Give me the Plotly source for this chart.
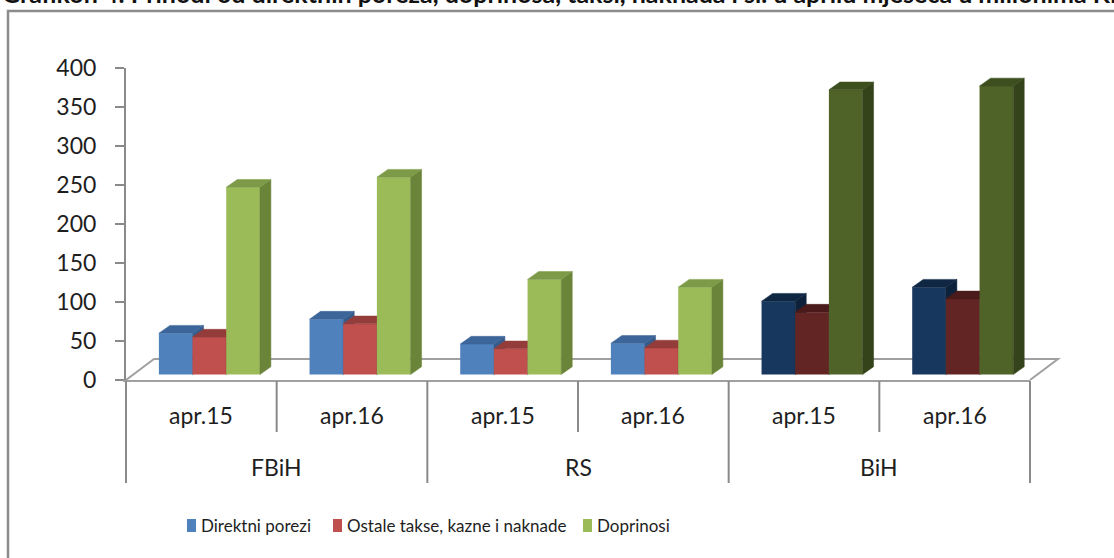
import plotly.graph_objects as go

# ---------------- data ----------------
groups = ["FBiH", "RS", "BiH"]
periods = ["apr.15", "apr.16", "apr.15", "apr.16", "apr.15", "apr.16"]
series_names = ["Direktni porezi", "Ostale takse, kazne i naknade", "Doprinosi"]
direktni_porezi = [53, 71, 39, 40, 94, 112]
ostale_takse = [48, 65, 33, 34, 80, 97]
doprinosi = [240, 253, 122, 112, 365, 370]
y_ticks = [0, 50, 100, 150, 200, 250, 300, 350, 400]
title_text = ("Grafikon 4: Prihodi od direktnih poreza, doprinosa, taksi, naknada i sl. "
              "u aprilu mjeseca u milionima KM")

# ---------------- style ----------------
FONT = "Lato, 'Open Sans', sans-serif"
LEG_FONT = "Lato, sans-serif"
TXT = "#1e1e1e"
front_light = ["#4F81BD", "#C0504D", "#9BBB59"]
top_light = ["#3C669A", "#943C3A", "#7C9A47"]
side_light = ["#375C8B", "#8A3735", "#6A8539"]
front_dark = ["#17375E", "#632523", "#4F6228"]
top_dark = ["#0F2742", "#4A1B1A", "#3D4E1F"]
side_dark = ["#0D223A", "#3F1716", "#34431A"]
dark_flags = [False, False, False, False, True, True]

W, H = 1114, 558
L, R, T, B = 126, 1030, 68, 380  # plot area in pixels
BAR_W = 0.2235
OFFS = [-0.170, 0.0535, 0.277]
BASE = 7
DX, DY = 0.073, 10


def xp(px):
    return (px - L) / (R - L)


def yp(py):
    return (B - py) / (B - T)


values = [direktni_porezi, ostale_takse, doprinosi]
fig = go.Figure()

for s, vals in enumerate(values):
    ax = "" if s == 0 else str(s + 1)
    xa, ya = "x" + ax, "y" + ax
    xs = [i + OFFS[s] for i in range(len(vals))]
    fronts = [front_dark[s] if d else front_light[s] for d in dark_flags]
    fig.add_trace(go.Bar(
        x=xs, y=vals, base=BASE, width=BAR_W, name=series_names[s],
        marker=dict(color=fronts, line=dict(width=0)),
        xaxis=xa, yaxis=ya, showlegend=False, hoverinfo="skip"))
    for i, v in enumerate(vals):
        x0 = xs[i] - BAR_W / 2
        x1 = xs[i] + BAR_W / 2
        yb, yt = BASE, BASE + v
        tc = top_dark[s] if dark_flags[i] else top_light[s]
        sc = side_dark[s] if dark_flags[i] else side_light[s]
        fig.add_trace(go.Scatter(
            x=[x1, x1, x1 + DX, x1 + DX, x1], y=[yb, yt, yt + DY, yb + DY, yb],
            fill="toself", fillcolor=sc, mode="lines", line=dict(width=0.5, color=sc),
            xaxis=xa, yaxis=ya, showlegend=False, hoverinfo="skip"))
        fig.add_trace(go.Scatter(
            x=[x0, x0 + DX, x1 + DX, x1, x0], y=[yt, yt + DY, yt + DY, yt, yt],
            fill="toself", fillcolor=tc, mode="lines", line=dict(width=0.5, color=tc),
            xaxis=xa, yaxis=ya, showlegend=False, hoverinfo="skip"))

shapes = []
GRAY = "#A0A0A0"
AXC = "#8A8A8A"
shapes.append(dict(type="rect", xref="paper", yref="paper",
                   x0=xp(8), y0=yp(11), x1=xp(1130), y1=yp(580),
                   line=dict(color="#8C8C8C", width=2.5), layer="below"))
fdx, fdy = 28, 21
shapes.append(dict(type="path", xref="paper", yref="paper", layer="below",
                   path=f"M{xp(L)},{yp(B)} L{xp(L+fdx)},{yp(B-fdy)} L{xp(R+fdx)},{yp(B-fdy)} L{xp(R)},{yp(B)}",
                   line=dict(color=GRAY, width=2)))
shapes.append(dict(type="line", xref="paper", yref="paper", x0=xp(L - 3), x1=xp(R), y0=yp(B + 1), y1=yp(B + 1),
                   line=dict(color=GRAY, width=2)))
cat_w = (R - L) / len(periods)
for k in range(len(periods) + 1):
    xpx = L + k * cat_w
    outer = (k % 2 == 0)
    shapes.append(dict(type="line", xref="paper", yref="paper",
                       x0=xp(xpx), x1=xp(xpx), y0=yp(B + 1), y1=yp(483 if outer else 432),
                       line=dict(color=AXC, width=2)))

annotations = []
for k, p in enumerate(periods):
    annotations.append(dict(xref="paper", yref="paper", x=xp(L + (k + 0.5) * cat_w), y=yp(415),
                            text=p, showarrow=False, xanchor="center", yanchor="middle",
                            font=dict(family=FONT, size=23, color=TXT)))
for g, name in enumerate(groups):
    annotations.append(dict(xref="paper", yref="paper", x=xp(L + (2 * g + 1) * cat_w), y=yp(467),
                            text=name, showarrow=False, xanchor="center", yanchor="middle",
                            font=dict(family=FONT, size=23, color=TXT)))
annotations.append(dict(xref="paper", yref="paper", x=xp(0), y=yp(10), text="<b>" + title_text + "</b>",
                        showarrow=False, xanchor="left", yanchor="bottom",
                        font=dict(family=FONT, size=25, color="#111111")))
leg_x = [187, 333, 583]
for s, name in enumerate(series_names):
    shapes.append(dict(type="rect", xref="paper", yref="paper",
                       x0=xp(leg_x[s]), x1=xp(leg_x[s] + 9), y0=yp(532), y1=yp(519),
                       fillcolor=front_light[s], line=dict(width=0)))
    annotations.append(dict(xref="paper", yref="paper", x=xp(leg_x[s] + 12), y=yp(525),
                            text=name, showarrow=False, xanchor="left", yanchor="middle",
                            font=dict(family=LEG_FONT, size=17, color=TXT)))

axis_common = dict(range=[-0.5, 5.5], visible=False, fixedrange=True)
yaxis_hidden = dict(range=[0, 400], visible=False, fixedrange=True)
fig.update_layout(
    width=W, height=H,
    margin=dict(l=L, r=W - R, t=T, b=H - B, pad=0),
    paper_bgcolor="white", plot_bgcolor="rgba(0,0,0,0)",
    barmode="overlay", showlegend=False,
    xaxis=dict(axis_common, anchor="y"),
    yaxis=dict(range=[0, 400], tickvals=y_ticks, ticks="outside", ticklen=9, tickwidth=2,
               tickcolor=AXC, showline=True, linecolor=AXC, linewidth=2, showgrid=False,
               zeroline=False, ticklabelstandoff=14, fixedrange=True,
               tickfont=dict(family=FONT, size=23, color=TXT), anchor="x"),
    xaxis2=dict(axis_common, overlaying="x", anchor="y2"),
    yaxis2=dict(yaxis_hidden, overlaying="y", anchor="x2"),
    xaxis3=dict(axis_common, overlaying="x", anchor="y3"),
    yaxis3=dict(yaxis_hidden, overlaying="y", anchor="x3"),
    shapes=shapes, annotations=annotations,
)

fig.write_html("out.html", config={"displayModeBar": False},
               post_script="document.body.style.margin='0';")
